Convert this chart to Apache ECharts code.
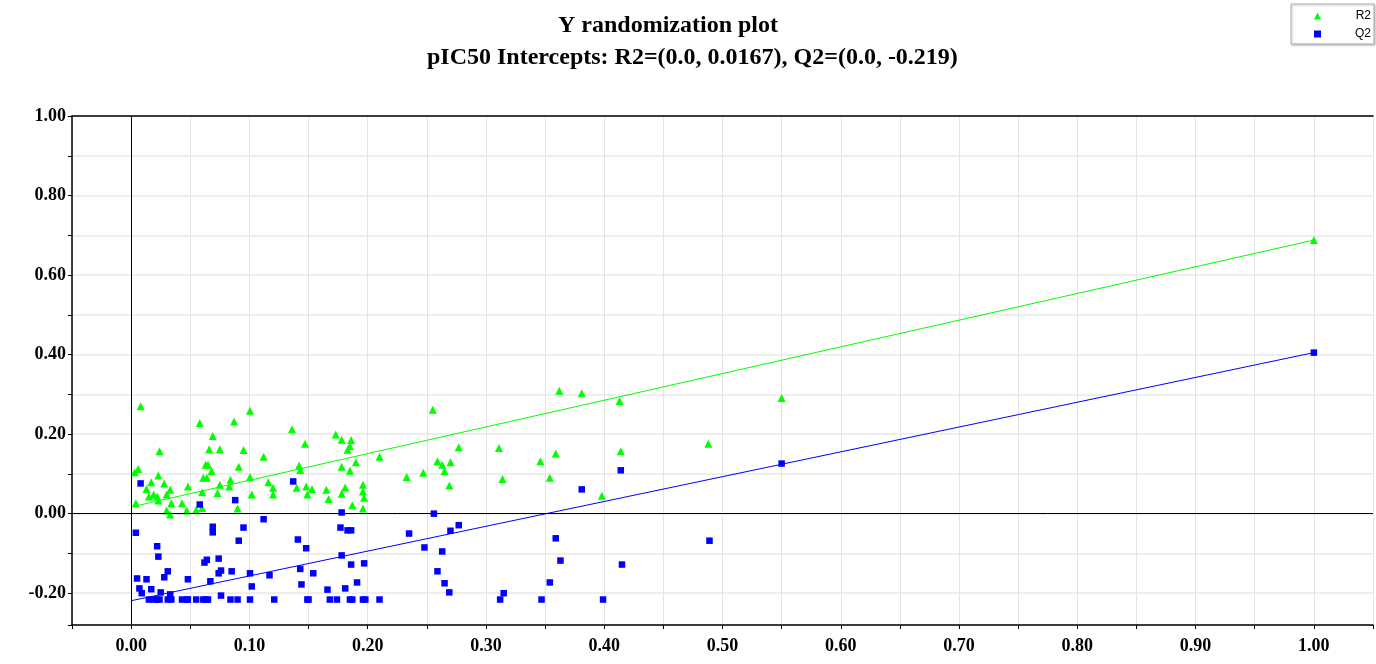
<!DOCTYPE html>
<html>
<head>
<meta charset="utf-8">
<script src="https://cdn.jsdelivr.net/npm/echarts@6/dist/echarts.min.js"></script>
<style>
html,body{margin:0;padding:0;background:#fff;}
#chart{width:1376px;height:664px;}
</style>
</head>
<body>
<div id="chart"></div>
<script>
// ---- data ----
const titleLine1 = "Y randomization plot";
const titleLine2 = "pIC50 Intercepts: R2=(0.0, 0.0167), Q2=(0.0, -0.219)";
const seriesNames = ["R2", "Q2"];
const interceptR2 = 0.0167;
const interceptQ2 = -0.219;
const originalR2 = [1.0, 0.688];
const originalQ2 = [1.0, 0.405];

const r2Points = [
  [0.008,0.270],[0.058,0.228],[0.087,0.232],[0.069,0.195],[0.024,0.157],[0.066,0.162],[0.075,0.162],
  [0.003,0.104],[0.006,0.112],[0.063,0.123],[0.065,0.123],[0.068,0.107],[0.091,0.118],[0.023,0.096],
  [0.017,0.079],[0.028,0.076],[0.013,0.062],[0.061,0.090],[0.064,0.090],[0.084,0.085],[0.075,0.073],
  [0.083,0.068],[0.048,0.068],[0.073,0.052],[0.033,0.060],[0.030,0.048],[0.015,0.043],[0.019,0.048],
  [0.022,0.043],[0.023,0.033],[0.060,0.054],[0.043,0.026],[0.034,0.026],[0.004,0.026],[0.030,0.008],
  [0.033,-0.002],[0.047,0.008],[0.055,0.010],[0.060,0.014],[0.090,0.013],
  [0.1005,0.259],[0.136,0.212],[0.173,0.199],[0.178,0.186],[0.186,0.185],[0.185,0.170],[0.183,0.161],
  [0.147,0.176],[0.095,0.160],[0.112,0.143],[0.142,0.121],[0.143,0.110],[0.178,0.118],[0.190,0.129],
  [0.185,0.108],[0.210,0.143],[0.233,0.092],[0.1005,0.092],[0.116,0.079],[0.120,0.065],[0.120,0.048],
  [0.102,0.048],[0.140,0.065],[0.148,0.068],[0.153,0.062],[0.149,0.048],[0.165,0.060],[0.167,0.037],
  [0.181,0.066],[0.178,0.050],[0.196,0.073],[0.196,0.056],[0.197,0.040],[0.187,0.021],[0.196,0.013],
  [0.362,0.309],[0.255,0.261],[0.277,0.167],[0.311,0.165],[0.359,0.151],[0.259,0.132],[0.263,0.123],
  [0.270,0.129],[0.265,0.107],[0.346,0.132],[0.247,0.103],[0.314,0.087],[0.354,0.090],[0.269,0.071],
  [0.381,0.303],[0.413,0.283],[0.414,0.157],[0.488,0.176],[0.398,0.045],
  [0.550,0.291],[1.0,0.688]
];

const q2Points = [
  [0.008,0.076],[0.058,0.023],[0.088,0.034],[0.004,-0.048],[0.069,-0.033],[0.069,-0.047],[0.091,-0.068],
  [0.022,-0.082],[0.023,-0.108],[0.062,-0.123],[0.064,-0.116],[0.074,-0.113],[0.076,-0.143],[0.074,-0.150],
  [0.085,-0.145],[0.031,-0.145],[0.028,-0.160],[0.005,-0.163],[0.013,-0.165],[0.048,-0.165],[0.007,-0.188],
  [0.009,-0.200],[0.017,-0.190],[0.025,-0.198],[0.033,-0.203],[0.067,-0.170],[0.076,-0.206],
  [0.015,-0.216],[0.019,-0.216],[0.022,-0.216],[0.024,-0.216],[0.031,-0.216],[0.034,-0.216],[0.043,-0.216],
  [0.047,-0.216],[0.048,-0.216],[0.055,-0.216],[0.061,-0.216],[0.063,-0.216],[0.065,-0.216],[0.084,-0.216],
  [0.090,-0.216],
  [0.137,0.081],[0.178,0.003],[0.112,-0.014],[0.095,-0.035],[0.177,-0.035],[0.183,-0.042],[0.186,-0.042],
  [0.141,-0.065],[0.148,-0.087],[0.178,-0.105],[0.186,-0.128],[0.197,-0.125],[0.143,-0.139],[0.154,-0.150],
  [0.117,-0.155],[0.1005,-0.150],[0.102,-0.183],[0.144,-0.178],[0.191,-0.173],[0.181,-0.188],[0.166,-0.191],
  [0.1005,-0.216],[0.121,-0.216],[0.149,-0.216],[0.150,-0.216],[0.168,-0.216],[0.174,-0.216],[0.185,-0.216],
  [0.187,-0.216],[0.196,-0.216],[0.198,-0.216],[0.210,-0.216],
  [0.256,0.000],[0.277,-0.029],[0.270,-0.043],[0.235,-0.050],[0.248,-0.085],[0.263,-0.095],[0.359,-0.062],
  [0.363,-0.118],[0.259,-0.145],[0.265,-0.175],[0.269,-0.198],[0.354,-0.173],[0.315,-0.200],[0.312,-0.216],
  [0.347,-0.216],
  [0.414,0.109],[0.381,0.061],[0.489,-0.068],[0.415,-0.128],[0.399,-0.216],
  [0.550,0.126],[1.0,0.405]
];

const xMin = -0.05, xMax = 1.05, xStep = 0.05;
const yMin = -0.28, yMax = 1.0;

// ---- chart ----
const serif = "'Liberation Serif','Times New Roman',serif";
const sans = "'Liberation Sans',Arial,sans-serif";
const chart = echarts.init(document.getElementById('chart'), null, {renderer: 'canvas'});

const xLabel = v => {
  const h = Math.round(v * 100);
  return (h % 10 === 0 && v > -0.001 && v < 1.001) ? (h / 100).toFixed(2) : '';
};
const yLabel = v => {
  const t = v * 10, r = Math.round(t);
  return (Math.abs(t - r) < 1e-6 && r % 2 === 0) ? (r / 10).toFixed(2) : '';
};

const option = {
  animation: false,
  backgroundColor: '#fff',
  title: [
    {text: titleLine1, left: 558, top: 14, padding: 0,
     textStyle: {fontFamily: serif, fontWeight: 'bold', fontSize: 24, color: '#000'}},
    {text: titleLine2, left: 427, top: 46, padding: 0,
     textStyle: {fontFamily: serif, fontWeight: 'bold', fontSize: 24, color: '#000'}}
  ],
  legend: {
    data: seriesNames,
    orient: 'vertical',
    right: 2, top: 4,
    padding: [6, 3, 4, 23],
    itemWidth: 7, itemHeight: 7, itemGap: 6,
    backgroundColor: '#fff',
    borderColor: '#b0b0b0', borderWidth: 1,
    shadowColor: 'rgba(0,0,0,0.25)', shadowBlur: 2, shadowOffsetX: 1, shadowOffsetY: 1,
    formatter: name => '{t|' + name + '}',
    textStyle: {fontFamily: sans, fontSize: 12, color: '#000',
      rich: {t: {fontFamily: sans, fontSize: 12, color: '#000', width: 45, align: 'right'}}}
  },
  grid: {left: 72, right: 0, top: 116, bottom: 39, containLabel: false},
  xAxis: [
    {type: 'value', min: xMin, max: xMax, interval: xStep,
     axisLine: {show: true, onZero: false, lineStyle: {color: '#000', width: 1.5}},
     axisTick: {show: true, length: 4, lineStyle: {color: '#000'}},
     axisLabel: {formatter: xLabel, margin: 12, showMinLabel: true, showMaxLabel: true,
       fontFamily: serif, fontWeight: 'bold', fontSize: 18, color: '#000'},
     splitLine: {show: true, lineStyle: {color: '#e4e4e4', width: 1}}},
    {type: 'value', position: 'top', min: xMin, max: xMax, interval: xStep,
     axisLine: {show: true, onZero: false, lineStyle: {color: '#000', width: 1.5}},
     axisTick: {show: false}, axisLabel: {show: false}, splitLine: {show: false}}
  ],
  yAxis: {
    type: 'value', min: yMin, max: yMax, splitNumber: 13, minInterval: 0.1, maxInterval: 0.1,
    axisLine: {show: true, onZero: false, lineStyle: {color: '#000', width: 1.5}},
    axisTick: {show: true, length: 4, lineStyle: {color: '#000'}},
    axisLabel: {formatter: yLabel, margin: 6, showMinLabel: true, showMaxLabel: true,
      fontFamily: serif, fontWeight: 'bold', fontSize: 18, color: '#000'},
    splitLine: {show: true, lineStyle: {color: '#e8e8e8', width: 1.5}}
  },
  series: [
    {name: 'R2 fit', type: 'line', data: [[0, interceptR2], originalR2], showSymbol: false, symbol: 'none',
     lineStyle: {color: '#00ff00', width: 1}, silent: true, z: 2,
     markLine: {silent: true, symbol: 'none', label: {show: false},
       lineStyle: {color: '#000', width: 1, type: 'solid'},
       data: [{xAxis: 0}, {yAxis: 0}]}},
    {name: 'Q2 fit', type: 'line', data: [[0, interceptQ2], originalQ2], showSymbol: false, symbol: 'none',
     lineStyle: {color: '#0000ff', width: 1}, silent: true, z: 2},
    {name: 'R2', type: 'scatter', data: r2Points, symbol: 'triangle', symbolSize: 8,
     itemStyle: {color: '#00ff00', opacity: 1}, z: 3},
    {name: 'Q2', type: 'scatter', data: q2Points, symbol: 'rect', symbolSize: 6.5,
     itemStyle: {color: '#0000ff', opacity: 1}, z: 4}
  ]
};
chart.setOption(option);
</script>
</body>
</html>
